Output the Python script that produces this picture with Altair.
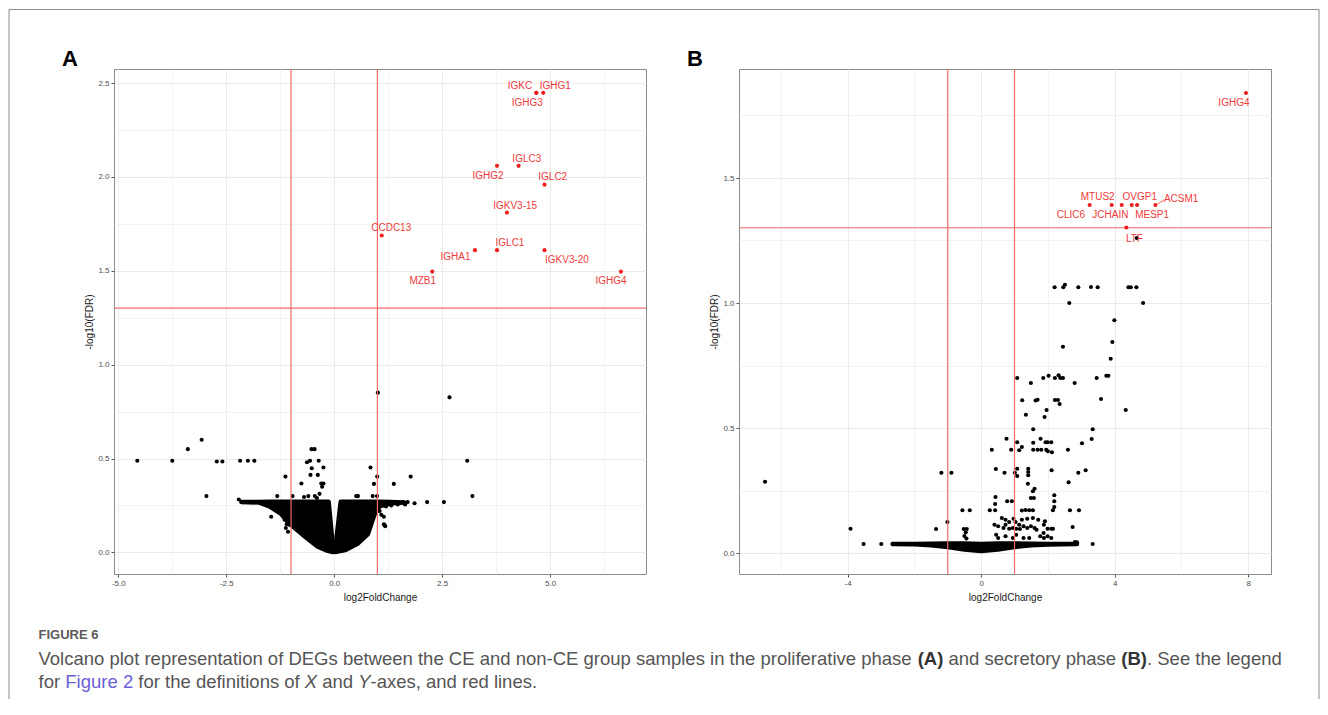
import altair as alt
import pandas as pd

# ---------------- Panel A (proliferative phase) ----------------
a_pt_x = [-4.56, -3.75, -3.39, -3.07, -2.96, -2.72, -2.59, -2.18, -2.00, -1.85, -2.21,
          -1.13, -1.32, -0.965, -1.46, -1.07, -1.12, -1.10, -1.19, -1.15, -1.03,
          -0.76, -0.63, -0.56, -0.525, -0.455, -0.36, -0.52, -0.55, -0.38, -0.25, -0.30, -0.25,
          -0.28, -0.34, -0.60, -0.45, -0.70, -0.40,
          0.84, 0.995, 0.92, 0.89, 0.99, 0.51, 0.55, 1.38, 1.77, 1.01, 2.67, 3.08, 3.20, 2.54,
          2.15, 1.86, 1.09, 1.15, 1.15, 1.18, 1.05, 1.16,
          1.24, 1.32, 1.40, 1.47, 1.59, 1.64, 1.70, 1.20]
a_pt_y = [0.488, 0.488, 0.550, 0.600, 0.300, 0.484, 0.484, 0.488, 0.488, 0.488, 0.282,
          0.404, 0.300, 0.300, 0.190, 0.110, 0.130, 0.150, 0.227, 0.174, 0.147,
          0.367, 0.480, 0.488, 0.550, 0.550, 0.488, 0.448, 0.413, 0.413, 0.452, 0.367, 0.367,
          0.350, 0.312, 0.300, 0.300, 0.295, 0.290,
          0.452, 0.404, 0.365, 0.300, 0.300, 0.300, 0.300, 0.365, 0.404, 0.851, 0.826, 0.488, 0.300, 0.268,
          0.268, 0.262, 0.200, 0.190, 0.150, 0.140, 0.220, 0.147,
          0.260, 0.250, 0.265, 0.255, 0.268, 0.255, 0.268, 0.245]

# dense, fully overlapping core of the cloud (outline)
a_core_part = ["L"] * 11 + ["R"] * 9
a_core_x = [-2.15, -1.75, -1.50, -1.23, -1.07, -0.84, -0.61, -0.38, -0.15, -0.13, -0.03,
            0.03, 0.15, 0.25, 0.55, 0.78, 0.93, 1.05, 1.30, 1.62]
a_core_lo = [0.268, 0.266, 0.245, 0.205, 0.160, 0.115, 0.072, 0.030, 0.008, 0.007, 0.002,
             0.002, 0.008, 0.012, 0.048, 0.098, 0.200, 0.245, 0.262, 0.266]
a_core_hi = [0.268, 0.268, 0.270, 0.270, 0.270, 0.270, 0.270, 0.270, 0.270, 0.270, 0.030,
             0.030, 0.270, 0.270, 0.270, 0.270, 0.270, 0.270, 0.268, 0.266]

a_genes = ["IGKC", "IGHG1", "IGHG3", "IGLC3", "IGHG2", "IGLC2", "IGKV3-15", "CCDC13",
           "IGLC1", "IGHA1", "IGKV3-20", "MZB1", "IGHG4"]
a_sig_x = [4.68, 4.84, 4.68, 4.27, 3.77, 4.87, 4.00, 1.10, 3.77, 3.26, 4.87, 2.27, 6.64]
a_sig_y = [2.448, 2.448, 2.448, 2.059, 2.059, 1.959, 1.810, 1.688, 1.610, 1.610, 1.610, 1.496, 1.496]
a_lab_x = [4.30, 5.12, 4.47, 4.46, 3.56, 5.06, 4.19, 1.32, 4.07, 2.81, 5.39, 2.05, 6.41]
a_lab_y = [2.484, 2.484, 2.394, 2.097, 2.007, 1.998, 1.847, 1.729, 1.649, 1.576, 1.559, 1.447, 1.445]

# ---------------- Panel B (secretory phase) ----------------
b_pt_x = [-6.47, -3.91, -3.52, -2.99, -1.35, -1.19, -0.89, -1.01, -0.56, -0.34, -0.52, -0.43, -0.46, -0.50, -0.44,
          0.26, 0.42, 0.32, 0.44, 0.43, 0.42, 0.76, 0.70, 0.78, 0.92, 0.90, 1.01, 1.08, 1.08, 1.08, 1.08,
          1.14, 1.22, 1.23, 1.34, 1.41, 1.41, 1.41, 1.40, 1.49, 1.56, 1.56, 1.56, 1.55, 1.60, 1.49, 1.58,
          1.22, 1.33, 1.44, 1.55, 1.63, 1.69, 1.69, 1.80, 1.78, 1.86, 2.02, 1.90, 1.93, 1.99, 1.96, 1.95,
          2.00, 2.11, 2.12, 2.10,
          2.20, 2.46, 2.51, 2.91, 3.29, 3.49, 4.41, 4.48, 4.65, 2.64, 4.85, 3.99, 3.93, 3.88, 2.45,
          2.21, 2.30, 2.35, 2.21, 2.32, 2.37, 2.45, 2.80, 3.46, 3.75, 3.81, 3.59, 4.33, 3.34, 3.31,
          3.02, 2.60, 2.91, 3.13, 2.62,
          2.19, 2.19, 2.19, 2.15, 2.66, 2.93, 2.74, 1.99, 2.10, 2.15, 1.91, 1.87, 1.99, 2.10, 2.81,
          2.87, 3.34,
          0.40, 0.51, 0.67, 0.73, 0.84, 0.95, 1.05, 1.16, 1.27, 1.38, 1.49, 1.66, 1.77, 1.88, 0.51,
          0.73, 0.95, 1.05, 1.27, 1.44, 0.45, 0.62, 0.73, 0.84, 0.97, 1.22, 1.38, 1.55, 1.03, 1.14,
          1.60, 1.71, 1.88,
          4.66]
b_pt_y = [0.285, 0.097, 0.036, 0.036, 0.096, 0.321, 0.321, 0.124, 0.171, 0.171, 0.096, 0.096, 0.083, 0.068, 0.058,
          0.171, 0.171, 0.413, 0.336, 0.224, 0.196, 0.457, 0.321, 0.207, 0.207, 0.413, 0.321, 0.700, 0.443, 0.337, 0.308,
          0.411, 0.424, 0.611, 0.553, 0.337, 0.324, 0.311, 0.277, 0.680, 0.495, 0.441, 0.413, 0.247, 0.257, 0.220, 0.220,
          0.170, 0.172, 0.171, 0.171, 0.610, 0.613, 0.413, 0.413, 0.457, 0.700, 0.709, 0.544, 0.443, 0.443, 0.572, 0.413,
          0.407, 0.331, 0.403, 0.443,
          1.063, 1.063, 1.073, 1.063, 1.064, 1.063, 1.063, 1.063, 1.063, 1.000, 1.000, 0.931, 0.844, 0.777, 0.825,
          0.612, 0.612, 0.596, 0.700, 0.711, 0.700, 0.700, 0.680, 0.700, 0.709, 0.709, 0.616, 0.572, 0.495, 0.456,
          0.439, 0.413, 0.321, 0.331, 0.283,
          0.231, 0.207, 0.184, 0.171, 0.171, 0.171, 0.104, 0.097, 0.097, 0.097, 0.127, 0.080, 0.067, 0.060, 0.044,
          0.043, 0.036,
          0.113, 0.107, 0.100, 0.113, 0.097, 0.100, 0.097, 0.096, 0.107, 0.100, 0.107, 0.093, 0.067, 0.060, 0.060,
          0.067, 0.060, 0.073, 0.060, 0.060, 0.073, 0.140, 0.133, 0.124, 0.137, 0.133, 0.137, 0.140, 0.124, 0.113,
          0.100, 0.133, 0.113,
          1.260]

b_core_part = ["C"] * 12
b_core_x = [-2.65, -2.0, -1.5, -1.0, -0.5, 0.0, 0.5, 1.0, 1.5, 2.0, 2.4, 2.87]
b_core_lo = [0.036, 0.035, 0.031, 0.024, 0.014, 0.008, 0.014, 0.024, 0.031, 0.034, 0.035, 0.036]
b_core_hi = [0.036, 0.036, 0.037, 0.038, 0.038, 0.036, 0.038, 0.038, 0.037, 0.036, 0.036, 0.036]

b_genes = ["CLIC6", "MTUS2", "JCHAIN", "OVGP1", "MESP1", "ACSM1", "LTF", "IGHG4"]
b_sig_x = [3.25, 3.91, 4.21, 4.51, 4.67, 5.22, 4.35, 7.93]
b_sig_y = [1.392, 1.392, 1.392, 1.392, 1.392, 1.392, 1.302, 1.840]
b_lab_x = [2.69, 3.49, 3.87, 4.75, 5.12, 5.99, 4.59, 7.57]
b_lab_y = [1.353, 1.423, 1.353, 1.425, 1.353, 1.416, 1.257, 1.800]
b_seg_x1, b_seg_y1, b_seg_x2, b_seg_y2 = [5.29], [1.396], [5.47], [1.412]

# thresholds: |log2FC| = 1 and FDR = 0.05
fc_cut = [-1.0, 1.0]
fdr_cut = [1.301]

RED_LINE = "#F26A6A"
RED_PT = "#EE1C1C"
RED_TXT = "#F03A3A"
FONT = "Liberation Sans"
one = pd.DataFrame({"k": [0]})


def make_panel(letter, px, py, cpart, cx, clo, chi, sx, sy, lx, ly, genes,
               xdom, ydom, xvals, yvals, xlabexpr, xminor, seg=None, extras=()):
    xs = alt.Scale(domain=xdom, nice=False, zero=False)
    ys = alt.Scale(domain=ydom, nice=False, zero=False)
    common = dict(
        tickColor="#555555", tickSize=3, tickWidth=1, domain=False,
        labelFont=FONT, labelFontSize=8, labelColor="#4D4D4D", labelPadding=2,
        titleFont=FONT, titleFontSize=10, titleFontWeight="normal", titleColor="#1A1A1A",
        gridColor="#EBEBEB",
    )
    xaxis = alt.Axis(
        title="log2FoldChange", values=xvals, labelExpr=xlabexpr, titlePadding=5,
        tickOpacity={"condition": {"test": xminor, "value": 0}, "value": 1},
        gridWidth={"condition": {"test": xminor, "value": 0.6}, "value": 1},
        labelFlush=False, **common)
    ymin = "datum.value % 0.5 !== 0"
    yaxis = alt.Axis(
        title="-log10(FDR)", values=yvals,
        labelExpr="datum.value % 0.5 === 0 ? format(datum.value, '.1f') : ''",
        titlePadding=3,
        tickOpacity={"condition": {"test": ymin, "value": 0}, "value": 1},
        gridWidth={"condition": {"test": ymin, "value": 0.6}, "value": 1},
        labelFlush=False, **common)

    def X(f):
        return alt.X(f, type="quantitative", scale=xs, axis=xaxis)

    def Y(f):
        return alt.Y(f, type="quantitative", scale=ys, axis=yaxis)

    core = pd.DataFrame({"part": cpart, "x": cx, "lo": clo, "hi": chi})
    pts = pd.DataFrame({"x": px, "y": py})
    sig = pd.DataFrame({"x": sx, "y": sy})
    lab = pd.DataFrame({"x": lx, "y": ly, "gene": genes})

    layers = [
        alt.Chart(core).mark_area(color="black", stroke="black", strokeWidth=4.5,
                                  strokeJoin="round", opacity=1)
        .encode(x=X("x"), y=Y("lo"), y2="hi", detail="part:N"),
        alt.Chart(pts).mark_circle(color="black", size=17, opacity=1).encode(x=X("x"), y=Y("y")),
        alt.Chart(pd.DataFrame({"x": fc_cut})).mark_rule(color=RED_LINE, strokeWidth=1.2)
        .encode(x=X("x")),
        alt.Chart(pd.DataFrame({"y": fdr_cut})).mark_rule(color=RED_LINE, strokeWidth=1.2)
        .encode(y=Y("y")),
        alt.Chart(sig).mark_circle(color=RED_PT, size=17, opacity=1).encode(x=X("x"), y=Y("y")),
        alt.Chart(lab).mark_text(color=RED_TXT, font=FONT, fontSize=10, baseline="middle")
        .encode(x=X("x"), y=Y("y"), text="gene:N"),
    ]
    if seg is not None:
        layers.append(
            alt.Chart(pd.DataFrame({"x": seg[0], "y": seg[1], "x2": seg[2], "y2": seg[3]}))
            .mark_rule(color=RED_TXT, strokeWidth=0.8)
            .encode(x=X("x"), y=Y("y"), x2="x2", y2="y2"))
    layers.append(
        alt.Chart(one).mark_text(text=letter, font=FONT, fontSize=22, fontWeight="bold",
                                 color="black", baseline="middle")
        .encode(x=alt.value(-44), y=alt.value(-10)))
    layers.extend(extras)
    return alt.layer(*layers).properties(width=532, height=505)


def txt(s, x, y, size=18.5, color="#555555", weight="normal", style="normal"):
    return (alt.Chart(one)
            .mark_text(text=s, font=FONT, fontSize=size, color=color, fontWeight=weight,
                       fontStyle=style, align="left", baseline="middle")
            .encode(x=alt.value(x), y=alt.value(y)))


FRAME = "#8C8C8C"
frame = [
    alt.Chart(one).mark_rule(color=FRAME, strokeWidth=1)
    .encode(x=alt.value(-105), y=alt.value(-59.5), y2=alt.value(630)),
    alt.Chart(one).mark_rule(color=FRAME, strokeWidth=1)
    .encode(x=alt.value(1205), y=alt.value(-59.5), y2=alt.value(630)),
    alt.Chart(one).mark_rule(color=FRAME, strokeWidth=1)
    .encode(x=alt.value(-105), x2=alt.value(1205), y=alt.value(-59.5)),
]

L1, L2 = 589.5, 612.5
caption = [
    txt("FIGURE 6", -75.5, 566.0, size=13, color="#5A5A5A", weight="bold"),
    txt("Volcano plot representation of DEGs between the CE and non-CE group samples in the proliferative phase",
        -75.5, L1),
    txt("(A)", 803.7, L1, color="#333333", weight="bold"),
    txt("and secretory phase", 834.5, L1),
    txt("(B)", 1007.3, L1, color="#333333", weight="bold"),
    txt(". See the legend", 1033.0, L1),
    txt("for", -75.5, L2),
    txt("Figure 2", -48.7, L2, color="#6B5FD6"),
    txt("for the definitions of", 24.3, L2),
    txt("X", 190.8, L2, style="italic"),
    txt("and", 208.2, L2),
    txt("Y", 244.2, L2, style="italic"),
    txt("-axes, and red lines.", 256.5, L2),
]

panel_a = make_panel(
    "A", a_pt_x, a_pt_y, a_core_part, a_core_x, a_core_lo, a_core_hi,
    a_sig_x, a_sig_y, a_lab_x, a_lab_y, a_genes,
    xdom=[-5.1, 7.22], ydom=[-0.115, 2.575],
    xvals=[-5.0, -3.75, -2.5, -1.25, 0.0, 1.25, 2.5, 3.75, 5.0, 6.25],
    yvals=[0.0, 0.25, 0.5, 0.75, 1.0, 1.25, 1.5, 1.75, 2.0, 2.25, 2.5],
    xlabexpr="datum.value % 2.5 === 0 ? (datum.value < 0 ? '-' : '') + format(abs(datum.value), '.1f') : ''",
    xminor="datum.value % 2.5 !== 0",
    extras=frame + caption,
)

panel_b = make_panel(
    "B", b_pt_x, b_pt_y, b_core_part, b_core_x, b_core_lo, b_core_hi,
    b_sig_x, b_sig_y, b_lab_x, b_lab_y, b_genes,
    xdom=[-7.25, 8.68], ydom=[-0.084, 1.936],
    xvals=[-6, -4, -2, 0, 2, 4, 6, 8],
    yvals=[0.0, 0.25, 0.5, 0.75, 1.0, 1.25, 1.5, 1.75],
    xlabexpr="datum.value % 4 === 0 ? (datum.value < 0 ? '-' : '') + format(abs(datum.value), 'd') : ''",
    xminor="datum.value % 4 !== 0",
    seg=(b_seg_x1, b_seg_y1, b_seg_x2, b_seg_y2),
)

chart = (
    alt.hconcat(panel_a, panel_b, spacing=93, bounds="flush")
    .properties(padding=0, background="white")
    .configure_view(stroke="#8C8C8C", strokeWidth=1, fill="white")
)

chart.save("out.html", embed_options={"renderer": "svg", "actions": False})
